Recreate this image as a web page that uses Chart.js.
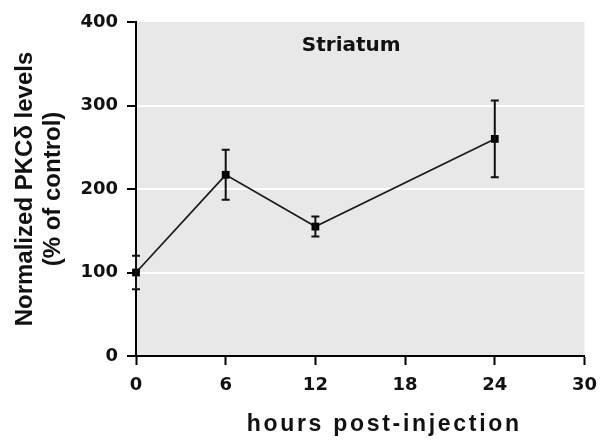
<!DOCTYPE html>
<html>
<head>
<meta charset="utf-8">
<script src="https://cdn.jsdelivr.net/npm/chart.js@4.4.1/dist/chart.umd.min.js"></script>
<style>
  html, body { margin: 0; padding: 0; background: #fff; }
  #wrap { width: 607px; height: 441px; }
</style>
</head>
<body>
<div id="wrap"><canvas id="pkc-chart" width="607" height="441"></canvas></div>
<script>
// time points (hours) with mean PKCδ levels and SEM
const hours = [0, 6, 12, 24];
const levels = [100, 217, 155, 260];
const errors = [20, 30, 12, 46];
const xTicks = [0, 6, 12, 18, 24, 30];
const yTicks = [0, 100, 200, 300, 400];

const panelTitle = 'Striatum';
const xTitle = 'hours post-injection';
const yTitle = ['Normalized PKCδ levels', '(% of control)'];

// grey plot background, panel label and x title
const panelPlugin = {
    id: 'panel',
    beforeDraw(chart) {
        const { ctx, chartArea } = chart;
        ctx.save();
        ctx.fillStyle = '#e8e8e8';
        ctx.fillRect(chartArea.left, chartArea.top, chartArea.right - chartArea.left, chartArea.bottom - chartArea.top);
        ctx.restore();
    },
    afterDraw(chart) {
        const { ctx, chartArea } = chart;
        const mid = (chartArea.left + chartArea.right) / 2;
        ctx.save();
        ctx.fillStyle = '#111';
        ctx.textAlign = 'center';
        ctx.textBaseline = 'middle';
        ctx.font = 'bold 20px "DejaVu Sans"';
        ctx.fillText(panelTitle, mid - 9, chartArea.top + 24);
        ctx.font = 'bold 23px "Liberation Sans"';
        ctx.letterSpacing = '2.7px';
        ctx.fillText(xTitle, mid + 24, 425);
        ctx.restore();
    }
};

// vertical error bars with caps
const errorBarPlugin = {
    id: 'errorBars',
    afterDatasetsDraw(chart) {
        const { ctx, scales } = chart;
        ctx.save();
        ctx.strokeStyle = '#111';
        ctx.lineWidth = 2;
        hours.forEach((h, i) => {
            const x = scales.x.getPixelForValue(h);
            const top = scales.y.getPixelForValue(levels[i] + errors[i]);
            const bot = scales.y.getPixelForValue(levels[i] - errors[i]);
            ctx.beginPath();
            ctx.moveTo(x, top);
            ctx.lineTo(x, bot);
            ctx.moveTo(x - 4, top);
            ctx.lineTo(x + 4, top);
            ctx.moveTo(x - 4, bot);
            ctx.lineTo(x + 4, bot);
            ctx.stroke();
        });
        ctx.restore();
    }
};

const ctx = document.getElementById('pkc-chart').getContext('2d');
new Chart(ctx, {
    type: 'line',
    data: {
        datasets: [{
            data: hours.map((h, i) => ({ x: h, y: levels[i] })),
            borderColor: '#1a1a1a',
            borderWidth: 1.7,
            pointStyle: 'rect',
            pointRadius: 5.5,
            pointBackgroundColor: '#000',
            pointBorderColor: '#000',
            pointBorderWidth: 0,
            tension: 0,
            clip: false
        }]
    },
    options: {
        responsive: false,
        animation: false,
        layout: { padding: { top: 22, right: 18, left: 0, bottom: 0 } },
        plugins: {
            legend: { display: false },
            tooltip: { enabled: false }
        },
        scales: {
            x: {
                type: 'linear',
                min: 0,
                max: 30,
                afterBuildTicks: (scale) => { scale.ticks = xTicks.map(v => ({ value: v })); },
                afterFit: (scale) => { scale.height = 85; },
                border: { color: '#000', width: 2 },
                grid: { drawOnChartArea: false, tickColor: '#000', tickLength: 9, tickWidth: 2 },
                ticks: {
                    color: '#111',
                    padding: 10,
                    maxRotation: 0,
                    font: { family: 'DejaVu Sans', size: 18, weight: 'bold' }
                }
            },
            y: {
                min: 0,
                max: 400,
                afterBuildTicks: (scale) => { scale.ticks = yTicks.map(v => ({ value: v })); },
                afterFit: (scale) => { scale.width = 136; },
                border: { color: '#000', width: 2 },
                grid: {
                    color: (c) => (c.tick && c.tick.value > 0 && c.tick.value < 400) ? '#ffffff' : 'rgba(0,0,0,0)',
                    lineWidth: 2,
                    tickColor: '#000',
                    tickLength: 9,
                    tickWidth: 2
                },
                ticks: {
                    color: '#111',
                    padding: 9,
                    font: { family: 'DejaVu Sans', size: 18, weight: 'bold' }
                },
                title: {
                    display: true,
                    text: yTitle,
                    color: '#111',
                    padding: { top: 11, bottom: 0 },
                    font: { family: 'Liberation Sans', size: 24, weight: 'bold', lineHeight: 1.17 }
                }
            }
        }
    },
    plugins: [panelPlugin, errorBarPlugin]
});
</script>
</body>
</html>
